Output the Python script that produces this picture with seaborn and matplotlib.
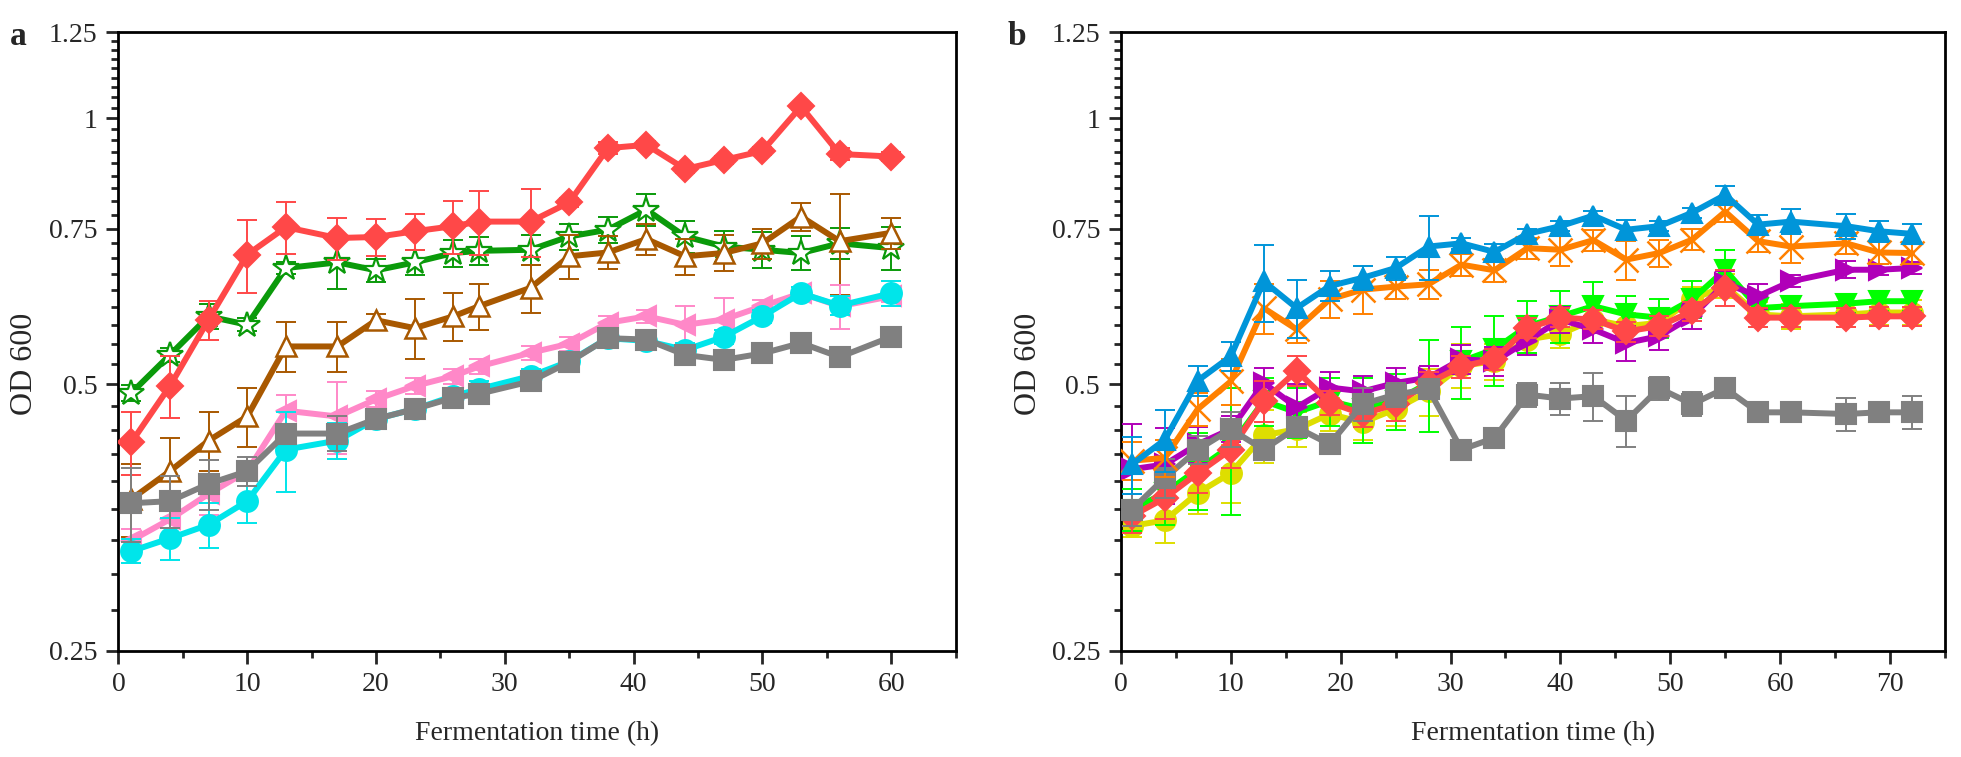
import numpy as np
import matplotlib
matplotlib.use("Agg")
import matplotlib.pyplot as plt
import seaborn as sns
from matplotlib.ticker import FixedLocator, NullFormatter, MultipleLocator

# ---- panel a ----
t_a = [1, 4, 7, 10, 13, 17, 20, 23, 26, 28, 32, 35, 38, 41, 44, 47, 50, 53, 56, 60]
a_red = [0.430, 0.498, 0.592, 0.701, 0.753, 0.732, 0.734, 0.745, 0.755, 0.764,
         0.764, 0.803, 0.925, 0.933, 0.876, 0.897, 0.918, 1.031, 0.911, 0.905]
a_red_err = [0.035, 0.04, 0.03, 0.067, 0.05, 0.04, 0.035, 0.035, 0.052, 0.064,
             0.068, 0.01, 0.015, 0.01, 0.01, 0.01, 0.01, 0.01, 0.015, 0.01]
a_green = [0.489, 0.540, 0.597, 0.584, 0.677, 0.687, 0.673, 0.687, 0.704, 0.708,
           0.710, 0.735, 0.748, 0.788, 0.735, 0.716, 0.710, 0.704, 0.722, 0.713]
a_green_err = [0.01, 0.01, 0.02, 0.01, 0.01, 0.046, 0.02, 0.023, 0.025, 0.026,
               0.028, 0.025, 0.026, 0.033, 0.031, 0.029, 0.033, 0.031, 0.029, 0.04]
a_brown = [0.371, 0.399, 0.432, 0.460, 0.552, 0.552, 0.591, 0.579, 0.597, 0.613,
           0.643, 0.698, 0.705, 0.730, 0.698, 0.704, 0.722, 0.774, 0.726, 0.742]
a_brown_err = [0.035, 0.036, 0.033, 0.035, 0.036, 0.036, 0.01, 0.045, 0.037, 0.037,
               0.04, 0.04, 0.03, 0.03, 0.033, 0.033, 0.028, 0.028, 0.095, 0.03]
a_pink = [0.333, 0.352, 0.376, 0.399, 0.467, 0.460, 0.481, 0.498, 0.511, 0.524,
          0.543, 0.556, 0.587, 0.597, 0.584, 0.592, 0.613, 0.634, 0.613, 0.629]
a_pink_err = [0.01, 0.015, 0.02, 0.01, 0.02, 0.043, 0.01, 0.01, 0.01, 0.01,
              0.01, 0.01, 0.01, 0.01, 0.03, 0.035, 0.01, 0.01, 0.035, 0.01]
a_cyan = [0.324, 0.335, 0.347, 0.369, 0.422, 0.432, 0.457, 0.469, 0.485, 0.494,
          0.511, 0.531, 0.564, 0.560, 0.547, 0.566, 0.597, 0.634, 0.614, 0.634]
a_cyan_err = [0.01, 0.018, 0.02, 0.02, 0.044, 0.02, 0.01, 0.01, 0.01, 0.01,
              0.01, 0.01, 0.01, 0.01, 0.01, 0.01, 0.01, 0.01, 0.015, 0.02]
a_gray = [0.367, 0.369, 0.386, 0.399, 0.440, 0.440, 0.457, 0.469, 0.483, 0.488,
          0.504, 0.530, 0.564, 0.562, 0.540, 0.533, 0.542, 0.557, 0.537, 0.566]
a_gray_err = [0.035, 0.025, 0.025, 0.015, 0.01, 0.02, 0.01, 0.01, 0.01, 0.01,
              0.01, 0.01, 0.01, 0.01, 0.01, 0.01, 0.01, 0.01, 0.01, 0.01]

# ---- panel b ----
t_b = [1, 4, 7, 10, 13, 16, 19, 22, 25, 28, 31, 34, 37, 40, 43, 46, 49, 52, 55, 58, 61, 66, 69, 72]
b_blue = [0.406, 0.433, 0.505, 0.538, 0.654, 0.610, 0.646, 0.660, 0.677, 0.716, 0.722, 0.706,
          0.740, 0.755, 0.776, 0.748, 0.755, 0.782, 0.819, 0.758, 0.764, 0.755, 0.745, 0.740]
b_blue_err = [0.03, 0.035, 0.02, 0.02, 0.065, 0.046, 0.025, 0.02, 0.02, 0.06, 0.01, 0.015,
              0.01, 0.01, 0.01, 0.02, 0.01, 0.01, 0.02, 0.02, 0.025, 0.025, 0.02, 0.02]
b_orange = [0.410, 0.413, 0.469, 0.504, 0.610, 0.577, 0.624, 0.640, 0.645, 0.649, 0.683, 0.673,
            0.713, 0.710, 0.728, 0.692, 0.704, 0.729, 0.784, 0.726, 0.716, 0.722, 0.705, 0.704]
b_orange_err = [0.02, 0.02, 0.02, 0.03, 0.04, 0.02, 0.03, 0.04, 0.02, 0.025, 0.02, 0.02,
                0.02, 0.03, 0.02, 0.035, 0.025, 0.02, 0.02, 0.02, 0.03, 0.02, 0.02, 0.02]
b_purple = [0.401, 0.406, 0.428, 0.445, 0.502, 0.471, 0.496, 0.491, 0.502, 0.509, 0.534, 0.531,
            0.560, 0.592, 0.577, 0.557, 0.567, 0.597, 0.651, 0.629, 0.654, 0.674, 0.674, 0.677]
b_purple_err = [0.05, 0.04, 0.02, 0.015, 0.02, 0.03, 0.02, 0.02, 0.02, 0.015, 0.02, 0.02,
                0.02, 0.02, 0.02, 0.025, 0.02, 0.02, 0.02, 0.02, 0.01, 0.015, 0.01, 0.01]
b_green = [0.361, 0.377, 0.401, 0.426, 0.479, 0.465, 0.479, 0.469, 0.479, 0.502, 0.531, 0.548,
           0.582, 0.597, 0.613, 0.600, 0.595, 0.624, 0.674, 0.610, 0.613, 0.617, 0.621, 0.621]
b_green_err = [0.02, 0.03, 0.04, 0.07, 0.03, 0.03, 0.03, 0.04, 0.035, 0.06, 0.05, 0.05,
               0.04, 0.04, 0.04, 0.03, 0.03, 0.03, 0.035, 0.02, 0.015, 0.015, 0.015, 0.015]
b_yellow = [0.346, 0.351, 0.377, 0.397, 0.438, 0.445, 0.463, 0.453, 0.469, 0.491, 0.525, 0.531,
            0.562, 0.570, 0.592, 0.582, 0.587, 0.624, 0.646, 0.600, 0.597, 0.600, 0.603, 0.603]
b_yellow_err = [0.01, 0.02, 0.02, 0.03, 0.03, 0.02, 0.02, 0.02, 0.02, 0.03, 0.03, 0.025,
                0.02, 0.02, 0.02, 0.02, 0.02, 0.02, 0.02, 0.02, 0.02, 0.02, 0.02, 0.02]
b_red = [0.355, 0.372, 0.397, 0.422, 0.479, 0.518, 0.477, 0.463, 0.475, 0.502, 0.524, 0.534,
         0.579, 0.595, 0.592, 0.574, 0.582, 0.605, 0.643, 0.595, 0.595, 0.595, 0.597, 0.597]
b_red_err = [0.015, 0.02, 0.02, 0.02, 0.025, 0.02, 0.015, 0.015, 0.02, 0.015, 0.015, 0.015,
             0.015, 0.015, 0.015, 0.015, 0.015, 0.015, 0.03, 0.015, 0.015, 0.015, 0.015, 0.015]
b_gray = [0.361, 0.392, 0.422, 0.445, 0.422, 0.447, 0.428, 0.475, 0.487, 0.494, 0.422, 0.435,
          0.487, 0.482, 0.485, 0.455, 0.495, 0.475, 0.495, 0.465, 0.465, 0.463, 0.465, 0.465]
b_gray_err = [0.015, 0.02, 0.015, 0.02, 0.01, 0.01, 0.01, 0.02, 0.015, 0.01, 0.01, 0.01,
              0.015, 0.02, 0.03, 0.03, 0.015, 0.015, 0.01, 0.01, 0.01, 0.02, 0.01, 0.02]

y_ticks = [0.25, 0.5, 0.75, 1.0, 1.25]
y_labels = ["0.25", "0.5", "0.75", "1", "1.25"]

sns.set_style("white")
plt.rcParams["font.family"] = ["Liberation Serif", "DejaVu Serif"]

fig = plt.figure(figsize=(19.61, 7.57), dpi=100)
ax_a = fig.add_axes([0.0604, 0.1404, 0.4269, 0.8167])
ax_b = fig.add_axes([0.5716, 0.1404, 0.4202, 0.8167])


def draw(ax, t, y, err, color, marker, ms, mfc=None, mew=1.5, z=2):
    ax.errorbar(t, y, yerr=err, fmt="none", ecolor=color, elinewidth=1.4,
                capsize=7, capthick=1.4, zorder=z)
    sns.lineplot(x=t, y=y, ax=ax, color=color, lw=4.3, marker=marker,
                 markersize=ms, markerfacecolor=mfc if mfc else color,
                 markeredgecolor=color, markeredgewidth=mew, errorbar=None,
                 zorder=z + 0.5)


# panel a
draw(ax_a, t_a, a_green, a_green_err, "#0a9a0a", "*", 19, mfc="white", mew=1.6, z=2)
draw(ax_a, t_a, a_brown, a_brown_err, "#a85800", "^", 15, mfc="white", mew=1.8, z=3)
draw(ax_a, t_a, a_red, a_red_err, "#ff4848", "D", 13, z=4)
draw(ax_a, t_a, a_pink, a_pink_err, "#ff88c8", "<", 15, z=5)
draw(ax_a, t_a, a_cyan, a_cyan_err, "#00e5ea", "o", 15, z=6)
draw(ax_a, t_a, a_gray, a_gray_err, "#808080", "s", 14, z=7)

# panel b
draw(ax_b, t_b, b_yellow, b_yellow_err, "#dede00", "o", 15, z=2)
draw(ax_b, t_b, b_green, b_green_err, "#00ff00", "v", 15, z=3)
draw(ax_b, t_b, b_purple, b_purple_err, "#b000b8", ">", 15, z=4)
draw(ax_b, t_b, b_red, b_red_err, "#ff4848", "D", 13, z=5)
draw(ax_b, t_b, b_gray, b_gray_err, "#808080", "s", 14, z=6)
draw(ax_b, t_b, b_orange, b_orange_err, "#ff8000", "x", 17, mew=1.8, z=7)
draw(ax_b, t_b, b_blue, b_blue_err, "#0095d9", "^", 15, z=8)

minor_y = []
for lo in [0.25, 0.5, 0.75, 1.0]:
    minor_y += [lo + k * 0.25 / 9 for k in range(1, 9)]

for ax, xmax, letter, lx in [(ax_a, 65, "a", 0.005), (ax_b, 75, "b", 0.514)]:
    ax.set_yscale("log")
    ax.set_ylim(0.25, 1.25)
    ax.set_xlim(0, xmax)
    ax.yaxis.set_major_locator(FixedLocator(y_ticks))
    ax.set_yticklabels(y_labels)
    ax.yaxis.set_minor_locator(FixedLocator(minor_y))
    ax.yaxis.set_minor_formatter(NullFormatter())
    ax.xaxis.set_major_locator(MultipleLocator(10))
    ax.xaxis.set_minor_locator(MultipleLocator(5))
    ax.tick_params(axis="both", which="major", direction="out", length=9,
                   width=2, labelsize=20, left=True, bottom=True, pad=6)
    ax.tick_params(axis="both", which="minor", direction="out", length=5,
                   width=2, left=True, bottom=True)
    for s in ax.spines.values():
        s.set_linewidth(2)
        s.set_color("black")
    ax.set_xlabel("Fermentation time (h)", fontsize=20, labelpad=18)
    ax.set_ylabel("OD 600", fontsize=23)
    ax.yaxis.set_label_coords(-0.095, 0.464)
    fig.text(lx, 0.952, letter, fontsize=24, fontweight="bold", va="center")

fig.savefig("out.png", dpi=100)
